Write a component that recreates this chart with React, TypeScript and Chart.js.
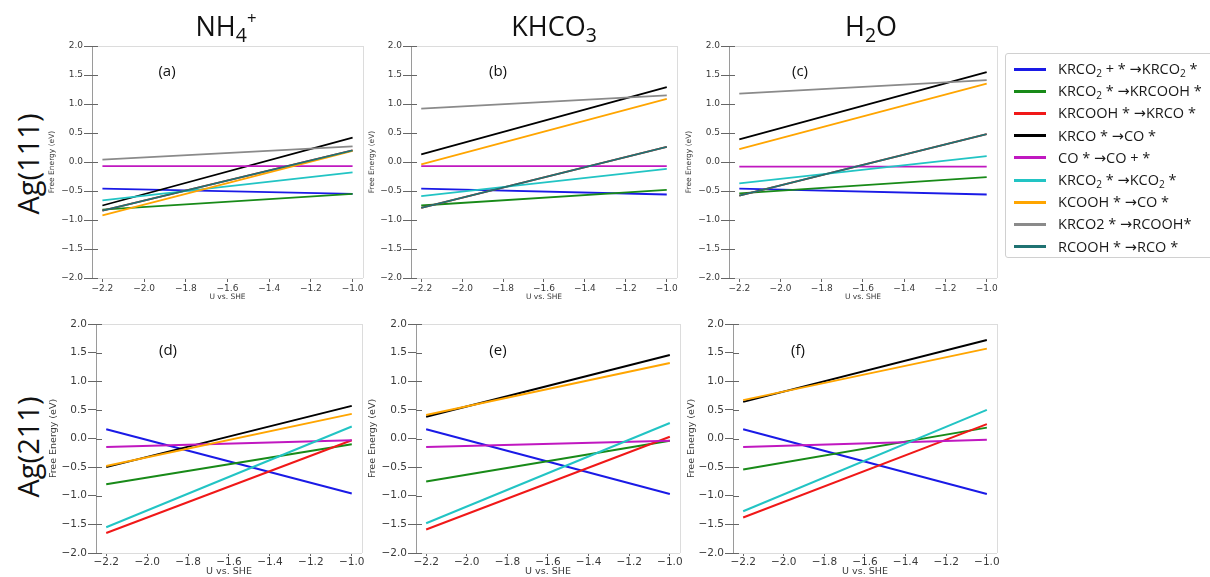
import React, { useEffect, useRef } from "react";
import { Chart, registerables } from "chart.js";

Chart.register(...registerables);

// ---------------- DATA ----------------
const U_VALUES = [-2.2, -1.0];
const X_TICKS = [-2.2, -2.0, -1.8, -1.6, -1.4, -1.2, -1.0];
const Y_TICKS = [-2.0, -1.5, -1.0, -0.5, 0.0, 0.5, 1.0, 1.5, 2.0];

const SERIES_LABELS = [
  "KRCO₂ + * →KRCO₂ *",
  "KRCO₂ * →KRCOOH *",
  "KRCOOH * →KRCO *",
  "KRCO * →CO *",
  "CO * →CO + *",
  "KRCO₂ * →KCO₂ *",
  "KCOOH * →CO *",
  "KRCO2 * →RCOOH*",
  "RCOOH * →RCO *",
];
const SERIES_COLORS = [
  "#1a1ae6",
  "#188a18",
  "#f01818",
  "#000000",
  "#c018c0",
  "#22c4c4",
  "#ffa500",
  "#8a8a8a",
  "#1f7272",
];

// free energy (eV) at U = -2.2 and U = -1.0, one pair per series (null = absent)
const PANEL_A: (number[] | null)[] = [
  [-0.46, -0.55], [-0.82, -0.55], [-0.84, 0.2], [-0.75, 0.42], [-0.07, -0.07],
  [-0.66, -0.18], [-0.92, 0.19], [0.04, 0.27], [-0.84, 0.2],
];
const PANEL_B: (number[] | null)[] = [
  [-0.46, -0.56], [-0.75, -0.48], [-0.79, 0.26], [0.13, 1.29], [-0.07, -0.07],
  [-0.59, -0.12], [-0.04, 1.09], [0.92, 1.15], [-0.79, 0.26],
];
const PANEL_C: (number[] | null)[] = [
  [-0.46, -0.56], [-0.54, -0.26], [-0.58, 0.48], [0.39, 1.55], [-0.08, -0.08],
  [-0.37, 0.1], [0.22, 1.35], [1.18, 1.41], [-0.58, 0.48],
];
const PANEL_D: (number[] | null)[] = [
  [0.16, -0.96], [-0.8, -0.1], [-1.65, -0.03], [-0.5, 0.57], [-0.15, -0.03],
  [-1.55, 0.21], [-0.48, 0.43], null, null,
];
const PANEL_E: (number[] | null)[] = [
  [0.16, -0.97], [-0.75, -0.04], [-1.59, 0.03], [0.38, 1.46], [-0.15, -0.04],
  [-1.48, 0.27], [0.41, 1.32], null, null,
];
const PANEL_F: (number[] | null)[] = [
  [0.16, -0.97], [-0.54, 0.19], [-1.38, 0.25], [0.64, 1.72], [-0.15, -0.02],
  [-1.27, 0.5], [0.67, 1.57], null, null,
];

const PANEL_LETTERS = ["(a)", "(b)", "(c)", "(d)", "(e)", "(f)"];
const X_TITLE = "U vs. SHE";
const Y_TITLE = "Free Energy (eV)";

// ---------------- LAYOUT ----------------
type Layout = {
  canvasLeft: number;
  spine: number;
  plotRight: number;
  canvasTop: number;
  plotTop: number;
  plotBottom: number;
  canvasBottom: number;
  small: boolean;
};

const TOP = { canvasTop: 34, plotTop: 46, plotBottom: 278, canvasBottom: 302, small: true };
const BOT = { canvasTop: 312, plotTop: 324, plotBottom: 553, canvasBottom: 577, small: false };

const PANELS: { values: (number[] | null)[]; layout: Layout; letter: string; lx: number; ly: number }[] = [
  { values: PANEL_A, layout: { ...TOP, canvasLeft: 48, spine: 92, plotRight: 363 }, letter: PANEL_LETTERS[0], lx: 167, ly: 70 },
  { values: PANEL_B, layout: { ...TOP, canvasLeft: 368, spine: 411, plotRight: 677 }, letter: PANEL_LETTERS[1], lx: 498, ly: 70 },
  { values: PANEL_C, layout: { ...TOP, canvasLeft: 685, spine: 729, plotRight: 997 }, letter: PANEL_LETTERS[2], lx: 800, ly: 70 },
  { values: PANEL_D, layout: { ...BOT, canvasLeft: 48, spine: 96, plotRight: 362 }, letter: PANEL_LETTERS[3], lx: 168, ly: 349 },
  { values: PANEL_E, layout: { ...BOT, canvasLeft: 367, spine: 416, plotRight: 680 }, letter: PANEL_LETTERS[4], lx: 498, ly: 349 },
  { values: PANEL_F, layout: { ...BOT, canvasLeft: 686, spine: 733, plotRight: 997 }, letter: PANEL_LETTERS[5], lx: 798, ly: 349 },
];

const fmt = (v: number) => {
  const r = Math.round(v * 10) / 10;
  if (Math.abs(r) < 1e-9) return "0.0";
  return (r < 0 ? "\u2212" : "") + Math.abs(r).toFixed(1);
};

const framePlugin = {
  id: "frame",
  beforeDatasetsDraw(chart: any) {
    const { ctx, chartArea } = chart;
    const { left, top, right, bottom } = chartArea;
    ctx.save();
    ctx.strokeStyle = "#dcdcdc";
    ctx.lineWidth = 1;
    ctx.beginPath();
    ctx.moveTo(left, Math.round(top) + 0.5);
    ctx.lineTo(right, Math.round(top) + 0.5);
    ctx.moveTo(Math.round(right) + 0.5, top);
    ctx.lineTo(Math.round(right) + 0.5, bottom);
    ctx.moveTo(left, Math.round(bottom) + 0.5);
    ctx.lineTo(right, Math.round(bottom) + 0.5);
    ctx.stroke();
    // inward part of y ticks
    const ys = chart.scales.y;
    ctx.strokeStyle = "#666";
    ctx.beginPath();
    for (const t of ys.ticks) {
      const py = Math.round(ys.getPixelForValue(t.value)) + 0.5;
      ctx.moveTo(left, py);
      ctx.lineTo(left + 6, py);
    }
    ctx.stroke();
    ctx.restore();
  },
};

function Panel({ values, layout }: { values: (number[] | null)[]; layout: Layout }) {
  const ref = useRef<HTMLCanvasElement>(null);
  const w = layout.plotRight + 16 - layout.canvasLeft;
  const h = layout.canvasBottom - layout.canvasTop;
  useEffect(() => {
    const canvas = ref.current!;
    const L = layout;
    const tickSize = L.small ? 9 : 10.5;
    const titleSize = L.small ? 7.5 : 9.5;
    const chart = new Chart(canvas, {
      type: "line",
      data: {
        datasets: SERIES_LABELS.map((label, i) => ({
          label,
          data: values[i] ? U_VALUES.map((u, k) => ({ x: u, y: (values[i] as number[])[k] })) : [],
          borderColor: SERIES_COLORS[i],
          backgroundColor: SERIES_COLORS[i],
          borderWidth: L.small ? 1.8 : 2,
          pointRadius: 0,
          fill: false,
          tension: 0,
          order: SERIES_LABELS.length - i,
        })),
      },
      options: {
        responsive: false,
        animation: false,
        devicePixelRatio: 1,
        layout: { padding: { top: L.plotTop - L.canvasTop, right: 16, left: 0, bottom: 0 } },
        plugins: { legend: { display: false }, tooltip: { enabled: false } },
        scales: {
          x: {
            type: "linear",
            min: -2.25,
            max: -0.95,
            afterBuildTicks: (s: any) => {
              s.ticks = X_TICKS.map((v) => ({ value: v }));
            },
            afterFit: (s: any) => {
              s.height = L.canvasBottom - L.plotBottom;
            },
            ticks: {
              callback: (v: any) => fmt(Number(v)),
              font: { family: "DejaVu Sans", size: tickSize },
              color: "#3a3a3a",
              padding: L.small ? 1 : 0,
              maxRotation: 0,
              autoSkip: false,
            },
            grid: { drawOnChartArea: false, drawTicks: true, tickLength: L.small ? 4 : 3, color: "#666" },
            border: { display: false },
            title: {
              display: true,
              text: X_TITLE,
              font: { family: "DejaVu Sans", size: titleSize },
              color: "#3a3a3a",
              padding: 0,
            },
          },
          y: {
            type: "linear",
            min: -2,
            max: 2,
            afterBuildTicks: (s: any) => {
              s.ticks = Y_TICKS.map((v) => ({ value: v }));
            },
            afterFit: (s: any) => {
              s.width = L.spine - L.canvasLeft;
            },
            ticks: {
              callback: (v: any) => fmt(Number(v)),
              font: { family: "DejaVu Sans", size: tickSize },
              color: "#3a3a3a",
              padding: 1,
            },
            grid: { drawOnChartArea: false, drawTicks: true, tickLength: 8, color: "#666" },
            border: { display: true, color: "#9a9a9a", width: 1 },
            title: {
              display: true,
              text: Y_TITLE,
              font: { family: "DejaVu Sans", size: titleSize },
              color: "#3a3a3a",
              padding: 0,
            },
          },
        },
      },
      plugins: [framePlugin],
    } as any);
    return () => chart.destroy();
  }, []);
  return (
    <canvas
      ref={ref}
      width={w}
      height={h}
      style={{ position: "absolute", left: layout.canvasLeft, top: layout.canvasTop, width: w, height: h }}
    />
  );
}

const renderSub = (s: string) => {
  const parts = s.split("₂");
  const out: any[] = [];
  parts.forEach((p, i) => {
    out.push(<span key={"p" + i}>{p}</span>);
    if (i < parts.length - 1) out.push(<sub key={"s" + i} style={{ fontSize: "0.7em", verticalAlign: "-0.25em", lineHeight: 0 }}>2</sub>);
  });
  return out;
};

const SANS = "'Open Sans', 'DejaVu Sans', sans-serif";

export default function App() {
  const titleStyle = (cx: number): React.CSSProperties => ({
    position: "absolute",
    left: cx - 100,
    width: 200,
    top: 11,
    textAlign: "center",
    fontFamily: SANS,
    fontSize: 27,
    lineHeight: "30px",
    color: "#111",
    whiteSpace: "nowrap",
  });
  const subS: React.CSSProperties = { fontSize: "0.72em", verticalAlign: "-0.3em", lineHeight: 0 };
  const supS: React.CSSProperties = { fontSize: "0.62em", verticalAlign: "0.7em", lineHeight: 0 };
  const rowStyle = (cy: number): React.CSSProperties => ({
    position: "absolute",
    left: 28,
    top: cy,
    transform: "translate(-50%, -50%) rotate(-90deg)",
    fontFamily: SANS,
    fontSize: 29,
    color: "#111",
    whiteSpace: "nowrap",
    lineHeight: "34px",
  });
  return (
    <div style={{ position: "absolute", left: 0, top: 0, width: 1210, height: 577, background: "#fff", overflow: "hidden" }}>
      {PANELS.map((p, i) => (
        <Panel key={i} values={p.values} layout={p.layout} />
      ))}
      {PANELS.map((p, i) => (
        <div
          key={"l" + i}
          style={{
            position: "absolute",
            left: p.lx,
            top: p.ly,
            transform: "translate(-50%, -50%)",
            fontFamily: SANS,
            fontSize: 15,
            color: "#111",
          }}
        >
          {p.letter}
        </div>
      ))}
      <div style={titleStyle(226)}>
        NH<sub style={subS}>4</sub>
        <sup style={supS}>+</sup>
      </div>
      <div style={titleStyle(554)}>
        KHCO<sub style={subS}>3</sub>
      </div>
      <div style={titleStyle(871)}>
        H<sub style={subS}>2</sub>O
      </div>
      <div style={rowStyle(164)}>Ag(111)</div>
      <div style={rowStyle(447)}>Ag(211)</div>
      <div
        style={{
          position: "absolute",
          left: 1005,
          top: 53,
          width: 215,
          height: 205,
          border: "1px solid #d0d0d0",
          borderRadius: 3,
          boxSizing: "border-box",
        }}
      >
        {SERIES_LABELS.map((lab, i) => (
          <div
            key={i}
            style={{
              position: "absolute",
              left: 0,
              top: 4 + i * 22.2,
              height: 22,
              display: "flex",
              alignItems: "center",
              whiteSpace: "nowrap",
            }}
          >
            <span style={{ display: "inline-block", marginLeft: 8, width: 32, height: 3, background: SERIES_COLORS[i] }} />
            <span style={{ marginLeft: 12, fontFamily: SANS, fontSize: 14.5, color: "#1a1a1a", lineHeight: "22px" }}>
              {renderSub(lab)}
            </span>
          </div>
        ))}
      </div>
    </div>
  );
}
